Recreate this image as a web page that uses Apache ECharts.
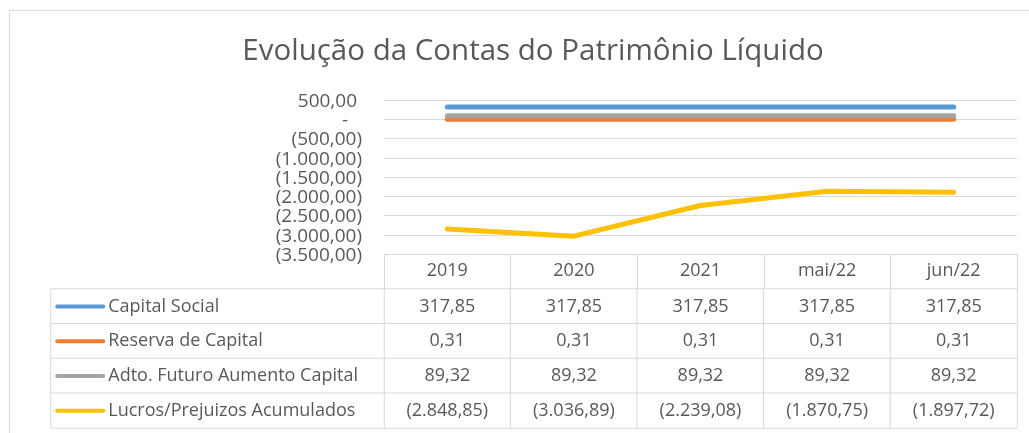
<!DOCTYPE html>
<html>
<head>
<meta charset="utf-8">
<script src="https://cdn.jsdelivr.net/npm/echarts@6/dist/echarts.min.js"></script>
<style>
  html, body { margin: 0; padding: 0; background: #fff; overflow: hidden; }
  #main { position: absolute; left: 0; top: 0; width: 1029px; height: 433px; }
  .frame { position: absolute; left: 9px; top: 10px; width: 1040px; height: 440px; border: 1px solid #d9d9d9; pointer-events: none; }
</style>
</head>
<body>
<div class="frame"></div>
<div id="main"></div>
<script>
// dados do gráfico
const periodos = ['2019', '2020', '2021', 'mai/22', 'jun/22'];
const contas = ['Capital Social', 'Reserva de Capital', 'Adto. Futuro Aumento Capital', 'Lucros/Prejuizos Acumulados'];
const capitalSocial = [317.85, 317.85, 317.85, 317.85, 317.85];
const reservaCapital = [0.31, 0.31, 0.31, 0.31, 0.31];
const adtoFuturo = [89.32, 89.32, 89.32, 89.32, 89.32];
const lucrosPrejuizos = [-2848.85, -3036.89, -2239.08, -1870.75, -1897.72];
const cores = ['#5B9BD5', '#ED7D31', '#A5A5A5', '#FFC000'];

const valores = [capitalSocial, reservaCapital, adtoFuturo, lucrosPrejuizos];
const fonte = '"Open Sans", "Noto Sans", sans-serif';
const corTexto = '#595959';
const corLinha = '#d9d9d9';

// formato contábil pt-BR
function numBR(v) {
  const s = Math.abs(v).toFixed(2).split('.');
  return s[0].replace(/\B(?=(\d{3})+(?!\d))/g, '.') + ',' + s[1];
}
function contabil(v) {
  if (v === 0) return '-';
  return v < 0 ? '(' + numBR(v) + ')' : numBR(v);
}

const chart = echarts.init(document.getElementById('main'));

// celulas da tabela de dados
const celulas = [];
valores.forEach((serie, r) => {
  serie.forEach((v, c) => celulas.push([c, r, v]));
});
const nomes = contas.map((n, r) => [0, r, r]);

const richNomes = { n: { fontSize: 18, color: corTexto, fontFamily: fonte, padding: [0, 0, 0, 3] } };
cores.forEach((cor, i) => {
  richNomes['i' + i] = { width: 50, height: 4, backgroundColor: cor, borderRadius: 2, verticalAlign: 'middle' };
});

const option = {
  animation: false,
  textStyle: { fontFamily: fonte },
  title: {
    text: 'Evolução da Contas do Patrimônio Líquido',
    left: 528,
    top: 32,
    textAlign: 'center',
    textStyle: { fontSize: 29.5, fontWeight: 'normal', color: corTexto, fontFamily: fonte }
  },
  grid: [
    { left: 384, right: 12, top: 100, height: 154 },
    { left: 384, right: 12, top: 289, height: 139 },
    { left: 51, width: 333, top: 289, height: 139 }
  ],
  xAxis: [
    {
      type: 'category',
      gridIndex: 0,
      data: periodos,
      boundaryGap: true,
      axisLine: { onZero: false, lineStyle: { color: corLinha, width: 1 } },
      axisTick: { show: true, interval: 0, alignWithLabel: false, length: 35, lineStyle: { color: corLinha } },
      axisLabel: { color: corTexto, fontSize: 18, margin: 8, interval: 0 }
    },
    { type: 'category', gridIndex: 1, data: periodos, show: false },
    { type: 'category', gridIndex: 2, data: [''], show: false }
  ],
  yAxis: [
    {
      type: 'value',
      gridIndex: 0,
      min: -3500,
      max: 500,
      interval: 500,
      axisLine: { show: false },
      axisTick: { show: false },
      splitLine: { lineStyle: { color: corLinha, width: 1 } },
      axisLabel: {
        margin: 22,
        fontSize: 19,
        color: corTexto,
        formatter: v => v === 0 ? '{z|-}' : (v > 0 ? '{p|' + contabil(v) + '}' : '{n|' + contabil(v) + '}'),
        rich: {
          z: { fontSize: 19, color: corTexto, padding: [3, 14, 0, 0] },
          p: { fontSize: 19, color: corTexto, padding: [3, 5, 0, 0] },
          n: { fontSize: 19, color: corTexto, padding: [3, 0, 0, 0] }
        }
      }
    },
    { type: 'category', gridIndex: 1, data: contas, inverse: true, show: false },
    { type: 'category', gridIndex: 2, data: contas, inverse: true, show: false }
  ],
  series: [
    ...contas.map((nome, i) => ({
      name: nome,
      type: 'line',
      xAxisIndex: 0,
      yAxisIndex: 0,
      data: valores[i],
      symbol: 'none',
      lineStyle: { color: cores[i], width: 5, cap: 'round', join: 'round' },
      itemStyle: { color: cores[i] },
      emphasis: { disabled: true }
    })),
    {
      type: 'heatmap',
      xAxisIndex: 1,
      yAxisIndex: 1,
      data: celulas,
      itemStyle: { color: '#ffffff', borderColor: corLinha, borderWidth: 1 },
      label: {
        show: true,
        fontSize: 18,
        color: corTexto,
        formatter: p => contabil(p.value[2])
      },
      emphasis: { disabled: true }
    },
    {
      type: 'heatmap',
      xAxisIndex: 2,
      yAxisIndex: 2,
      data: nomes,
      itemStyle: { color: '#ffffff', borderColor: corLinha, borderWidth: 1 },
      label: {
        show: true,
        position: 'insideLeft',
        distance: 5,
        formatter: p => '{i' + p.value[2] + '|}{n|' + contas[p.value[2]] + '}',
        rich: richNomes
      },
      emphasis: { disabled: true }
    }
  ]
};

chart.setOption(option);
</script>
</body>
</html>
